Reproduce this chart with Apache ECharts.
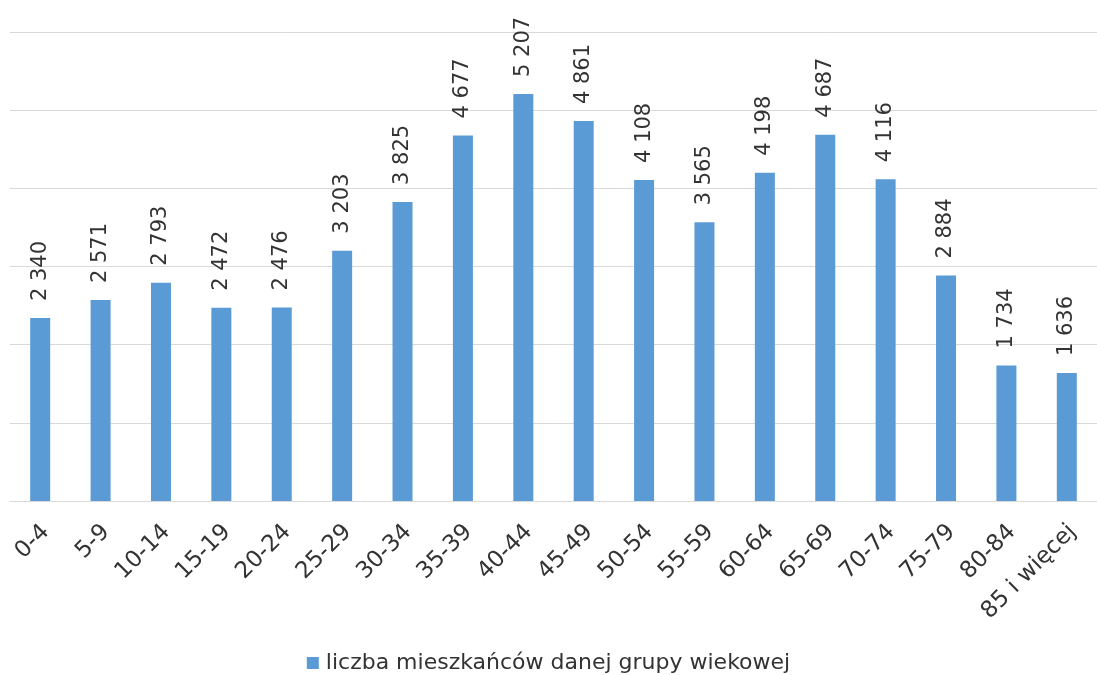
<!DOCTYPE html>
<html><head><meta charset="utf-8">
<script src="https://cdn.jsdelivr.net/npm/echarts@6/dist/echarts.min.js"></script>
<style>html,body{margin:0;padding:0;background:#fff}#c{width:1097px;height:675px}</style>
</head><body><div id="c"></div>
<script>
const categories = ['0-4','5-9','10-14','15-19','20-24','25-29','30-34','35-39','40-44','45-49','50-54','55-59','60-64','65-69','70-74','75-79','80-84','85 i więcej'];
const values = [2340,2571,2793,2472,2476,3203,3825,4677,5207,4861,4108,3565,4198,4687,4116,2884,1734,1636];
const seriesName = 'liczba mieszkańców danej grupy wiekowej';

const chart = echarts.init(document.getElementById('c'));
chart.setOption({
  animation: false,
  grid: {left: 10, top: 32, width: 1098, height: 469, containLabel: false},
  legend: {
    data: [seriesName], top: 647, left: 'center',
    icon: 'rect', itemWidth: 12, itemHeight: 12, itemGap: 6,
    textStyle: {fontFamily: 'DejaVu Sans', fontSize: 22, color: '#333333', padding: [0,0,0,2]}
  },
  xAxis: {
    type: 'category', data: categories,
    axisLine: {show: true, lineStyle: {color: '#d9d9d9', width: 1}},
    axisTick: {show: false},
    axisLabel: {rotate: 45, interval: 0, margin: 33, fontFamily: 'DejaVu Sans', fontSize: 23, color: '#333333', padding: [0,-8,0,0]}
  },
  yAxis: {
    type: 'value', min: 0, max: 6000, interval: 1000,
    axisLabel: {show: false}, axisLine: {show: false}, axisTick: {show: false},
    splitLine: {lineStyle: {color: '#d9d9d9', width: 1}}
  },
  series: [{
    name: seriesName, type: 'bar', data: values, barWidth: 20,
    itemStyle: {color: '#5B9BD5'},
    label: {
      show: true, position: 'top', rotate: 90, align: 'left', verticalAlign: 'middle', distance: 17,
      fontFamily: 'DejaVu Sans', fontSize: 21, color: '#333333',
      formatter: p => String(p.value).replace(/\B(?=(\d{3})+(?!\d))/g, ' ')
    }
  }]
});
</script></body></html>
